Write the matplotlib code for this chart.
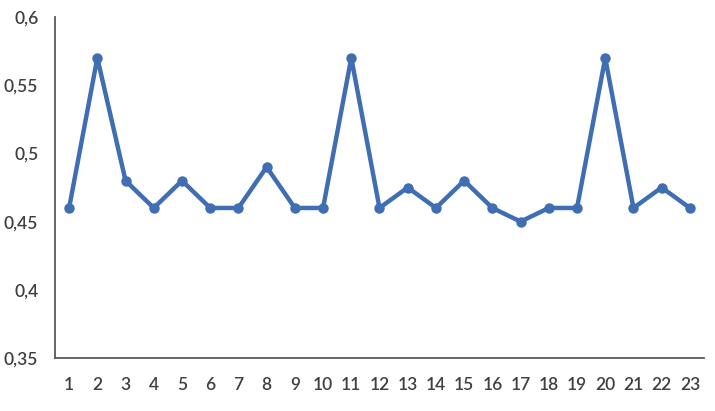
import matplotlib
matplotlib.use('Agg')
import matplotlib.pyplot as plt
from matplotlib.ticker import FuncFormatter

points = list(range(1, 24))
values = [0.46, 0.57, 0.48, 0.46, 0.48, 0.46, 0.46, 0.49, 0.46, 0.46, 0.57, 0.46,
          0.475, 0.46, 0.48, 0.46, 0.45, 0.46, 0.46, 0.57, 0.46, 0.475, 0.46]
y_ticks = [0.35, 0.4, 0.45, 0.5, 0.55, 0.6]

plt.rcParams['font.family'] = ['Lato', 'DejaVu Sans']

fig = plt.figure(figsize=(7.15, 4.11), dpi=100)
ax = fig.add_axes([55 / 715, 53 / 411, 649 / 715, 341 / 411])

ax.plot(points, values, color='#3F6EB3', linewidth=3.2, marker='o',
        markersize=6.5, solid_joinstyle='miter')

ax.set_xlim(0.5, 23.5)
ax.set_ylim(0.35, 0.6)
ax.set_xticks(points)
ax.set_yticks(y_ticks)
ax.yaxis.set_major_formatter(FuncFormatter(lambda v, _: f'{v:g}'.replace('.', ',')))

for side in ['top', 'right']:
    ax.spines[side].set_visible(False)
for side in ['left', 'bottom']:
    ax.spines[side].set_color('#595959')
    ax.spines[side].set_linewidth(1.3)

ax.tick_params(length=0, labelsize=12.5, colors='#404040')
for lbl in ax.get_xticklabels() + ax.get_yticklabels():
    lbl.set_fontweight('semibold')
ax.tick_params(axis='x', pad=14)
ax.tick_params(axis='y', pad=12)

fig.savefig('out.png', dpi=100)
